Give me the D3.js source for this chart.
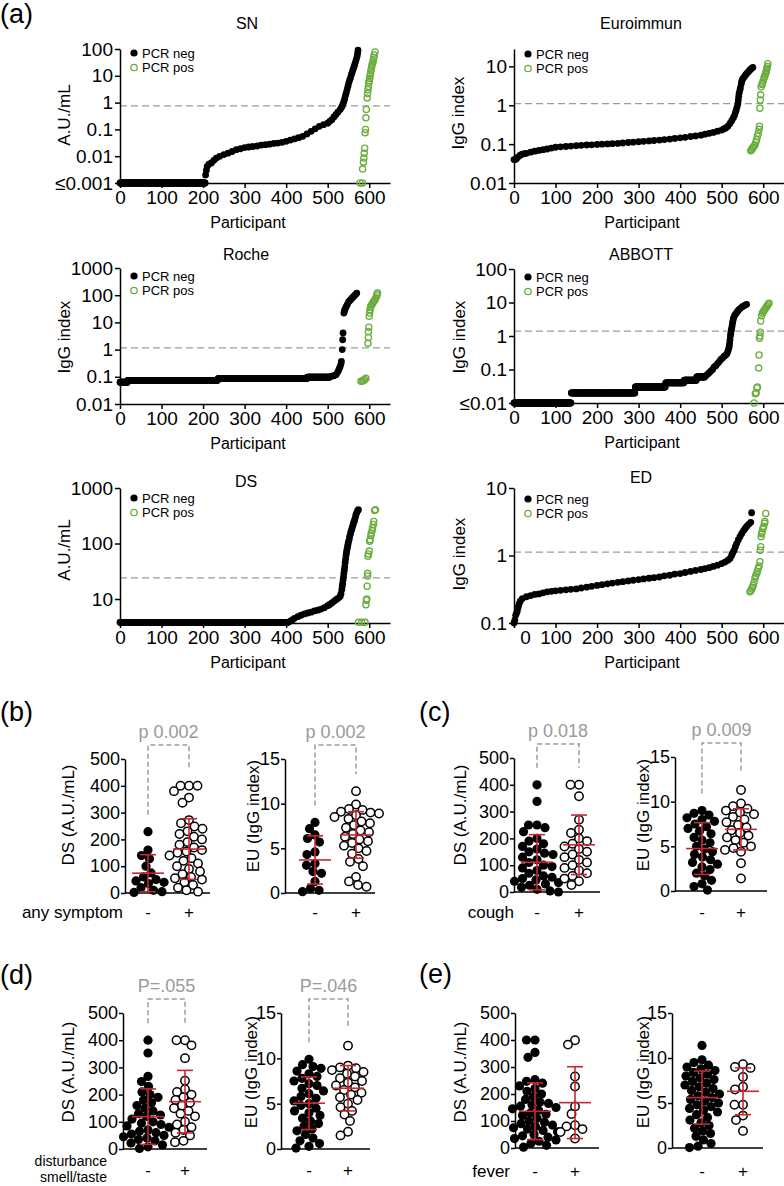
<!DOCTYPE html>
<html><head><meta charset="utf-8">
<script src="https://cdn.jsdelivr.net/npm/d3@7"></script>
<style>
body{margin:0;background:#fff;}
svg{font-family:"Liberation Sans",Arial,Helvetica,sans-serif;}
</style></head><body>
<svg id="c" width="784" height="1186"></svg>
<script>
// ---------------- DATA: panel (a) ----------------
const xTicks = [0,100,200,300,400,500,600];
const legendLabels = ["PCR neg","PCR pos"];

// SN
const snTicks = [0.001,0.01,0.1,1,10,100];
const snTickLabels = ["≤0.001","0.01","0.1","1","10","100"];
const snCutoff = 0.75;
const snNegRuns = [[0,205,0.001]];
const snNeg = [[206,0.002],[208,0.003],[210,0.0042],[214,0.005],[220,0.0056],[226,0.007],[232,0.0085],[240,0.0099],[250,0.0115],[260,0.013],[270,0.015],[280,0.0175],[290,0.019],[300,0.021],[310,0.022],[320,0.023],[330,0.024],[340,0.026],[350,0.027],[360,0.028],[370,0.03],[380,0.031],[390,0.033],[400,0.036],[410,0.04],[420,0.044],[430,0.049],[440,0.055],[450,0.068],[460,0.085],[470,0.105],[480,0.13],[490,0.15],[500,0.17],[505,0.2],[510,0.23],[515,0.29],[520,0.36],[525,0.45],[530,0.55],[533,0.65],[535,0.75],[537,0.9],[539,1.1],[541,1.4],[543,1.9],[545,2.4],[547,3.2],[549,4.2],[551,5.6],[553,7],[555,8.5],[557,11],[559,13.5],[561,17],[563,21],[565,26],[567,33],[569,42],[571,55],[572,70],[573,90]];
const snPos = [[578,0.001],[584,0.001],[584,0.0033],[586,0.006],[587,0.0085],[588,0.013],[589,0.02],[590,0.075],[591,0.1],[592,0.27],[593,0.55],[595,1.5],[596,2.2],[597,3.0],[598,4],[599,5.5],[600,6.5],[601,8],[602,10],[603,12],[604,15],[605,18],[606,22],[607,27],[609,33],[610,40],[611,48],[612,60],[614,77]];

// Euroimmun
const euTicksLog = [0.01,0.1,1,10];
const euTickLabelsLog = ["0.01","0.1","1","10"];
const euCutoff = 1.1;
const euNeg = [[0,0.04],[3,0.04],[6,0.042],[10,0.047],[15,0.052],[20,0.055],[25,0.057],[30,0.058],[40,0.062],[50,0.066],[60,0.069],[70,0.072],[80,0.075],[90,0.079],[100,0.083],[112,0.085],[125,0.087],[137,0.089],[150,0.091],[162,0.093],[175,0.095],[187,0.096],[200,0.098],[212,0.1],[225,0.101],[237,0.103],[250,0.104],[262,0.107],[275,0.11],[287,0.112],[300,0.115],[312,0.118],[325,0.121],[337,0.124],[350,0.127],[362,0.131],[375,0.135],[387,0.14],[400,0.145],[412,0.15],[425,0.157],[437,0.163],[450,0.17],[460,0.18],[470,0.19],[480,0.2],[490,0.215],[500,0.23],[505,0.245],[510,0.26],[515,0.29],[520,0.34],[524,0.4],[528,0.47],[531,0.55],[533,0.65],[535,0.76],[537,0.9],[539,1.1],[540,1.37],[541,1.7],[542,2.05],[544,2.5],[545,2.8],[547,3.5],[548,4.1],[550,4.6],[552,5.0],[555,5.5],[558,6.1],[561,6.7],[565,7.4],[568,8.1],[571,8.7],[575,9.4]];
const euPos = [[570,0.068],[572,0.072],[574,0.078],[576,0.083],[578,0.09],[580,0.095],[582,0.11],[584,0.13],[586,0.16],[588,0.19],[590,0.24],[591,0.29],[592,0.84],[593,1.37],[594,1.85],[595,3.0],[597,3.4],[598,3.7],[600,4.3],[602,5.0],[603,5.5],[605,6.2],[606,6.7],[607,7.3],[608,8],[609,9],[610,10],[611,11.7]];

// Roche
const rocheTicks = [0.01,0.1,1,10,100,1000];
const rocheTickLabels = ["0.01","0.1","1","10","100","1000"];
const rocheCutoff = 1.15;
const rocheNegRuns = [[0,18,0.063],[19,235,0.074],[236,450,0.086],[451,504,0.097]];
const rocheNeg = [[505,0.1],[510,0.105],[515,0.11],[520,0.12],[523,0.14],[526,0.17],[528,0.2],[530,0.24],[532,0.3],[533,0.37],[535,1.0],[536,2.3],[537,4.1],[539,22],[540,25],[541,29],[543,34],[545,39],[547,45],[550,56],[553,63],[556,70],[559,79],[562,88],[565,99],[568,110],[570,120]];
const rochePos = [[580,0.068],[583,0.07],[586,0.072],[589,0.08],[592,0.088],[597,1.7],[598,2.8],[598,4.5],[599,6.6],[600,16.7],[601,22],[602,29],[603,35],[604,40],[606,45],[608,50],[610,56],[612,62],[614,68],[616,80],[618,95],[619,110],[620,120]];

// ABBOTT
const abbottTicks = [0.01,0.1,1,10,100];
const abbottTickLabels = ["≤0.01","0.1","1","10","100"];
const abbottCutoff = 1.4;
const abbottNegRuns = [[0,137,0.01],[138,291,0.02],[292,364,0.03],[365,409,0.04],[410,439,0.048],[440,459,0.06]];
const abbottNeg = [[462,0.065],[466,0.072],[470,0.08],[474,0.09],[478,0.1],[482,0.12],[486,0.13],[490,0.15],[494,0.17],[498,0.2],[502,0.22],[506,0.25],[510,0.27],[513,0.3],[515,0.35],[517,0.42],[518,0.49],[519,0.6],[520,0.77],[521,1.0],[522,1.2],[523,1.5],[524,1.7],[525,2.0],[526,2.4],[527,2.8],[528,3.3],[530,3.8],[532,4.3],[535,4.8],[538,5.4],[541,6.0],[545,6.7],[550,7.5],[555,8.2],[560,8.8]];
const abbottPos = [[578,0.01],[581,0.019],[583,0.02],[585,0.028],[586,0.03],[589,0.11],[590,0.27],[591,0.86],[592,1.0],[593,1.3],[594,2.8],[596,4.0],[598,4.8],[600,5.3],[602,5.8],[604,6.3],[606,6.9],[608,7.5],[610,8.2],[612,9],[614,9.5]];

// DS
const dsTicksLog = [10,100,1000];
const dsTickLabelsLog = ["10","100","1000"];
const dsCutoff = 24;
const dsNegRuns = [[0,405,3.8]];
const dsNeg = [[410,4.0],[415,4.2],[420,4.5],[428,4.8],[436,5.1],[444,5.4],[452,5.6],[460,5.8],[468,6.1],[476,6.3],[484,6.6],[492,7.0],[500,7.6],[505,8.0],[510,8.5],[515,9.1],[520,9.7],[525,10.3],[530,11.1],[532,12.5],[534,14.8],[535,17],[536,19],[537,22],[538,25],[539,29],[540,33],[541,38],[542,45],[543,52],[544,60],[545,67],[546,75],[547,82],[548,89],[549,98],[550,108],[552,120],[553,135],[555,150],[556,165],[558,178],[559,195],[561,215],[562,235],[564,250],[565,270],[567,300],[568,330],[570,360],[572,390],[574,407]];
const dsPos = [[574,3.8],[582,3.8],[590,3.8],[592,7.9],[593,9.5],[594,10],[595,17],[596,26],[596,29],[597,59],[598,65],[600,73],[601,110],[602,117],[604,140],[605,155],[607,170],[608,190],[610,220],[611,250],[613,395],[615,405]];

// ED
const edTicks = [0.1,1,10];
const edTickLabels = ["0.1","1","10"];
const edCutoff = 1.12;
const edNeg = [[0,0.1],[2,0.11],[4,0.13],[6,0.14],[8,0.15],[10,0.17],[12,0.19],[15,0.21],[20,0.23],[30,0.245],[40,0.255],[50,0.265],[60,0.27],[70,0.28],[80,0.29],[90,0.295],[100,0.3],[112,0.305],[125,0.31],[137,0.315],[150,0.32],[162,0.33],[175,0.34],[187,0.35],[200,0.36],[212,0.37],[225,0.38],[237,0.39],[250,0.4],[262,0.41],[275,0.42],[287,0.43],[300,0.44],[312,0.45],[325,0.46],[337,0.47],[350,0.48],[362,0.5],[375,0.51],[387,0.53],[400,0.54],[412,0.56],[425,0.58],[437,0.6],[450,0.62],[460,0.64],[470,0.66],[480,0.69],[490,0.72],[500,0.76],[508,0.8],[515,0.85],[520,0.9],[524,1.0],[527,1.1],[530,1.2],[533,1.35],[536,1.5],[540,1.7],[544,1.9],[548,2.1],[552,2.3],[556,2.5],[560,2.7],[565,2.9],[570,3.1],[572,4.3]];
const edPos = [[568,0.29],[570,0.3],[572,0.32],[574,0.34],[576,0.36],[578,0.4],[580,0.46],[582,0.5],[584,0.54],[586,0.58],[588,0.64],[590,0.7],[592,0.81],[593,1.2],[594,1.35],[595,1.9],[596,2.1],[597,2.2],[599,2.5],[601,2.7],[603,3.0],[604,3.2],[606,4.2]];

// ---------------- DATA: panels (b)-(e) ----------------
const groupLabels = ["-","+"];
const dsTicksLin = [0,100,200,300,400,500];
const euTicksLin = [0,5,10,15];

const dsAnyNeg = [229,160,140,128,100,75,60,50,45,40,35,20,10,5,2];
const dsAnyPos = [400,400,400,380,356,337,272,260,248,240,230,220,210,200,190,180,170,160,155,150,140,130,120,110,100,90,80,70,60,55,50,40,30,20,10,5];
const euAnyNeg = [7.9,7.2,6.5,6.1,5.7,4.6,4.3,3.3,3.1,2.4,2.2,1.3,0.5,0.3,0.15];
const euAnyPos = [11.4,9.9,9.4,9.3,9.1,9.0,8.9,8.7,8.5,8.3,8.0,7.8,7.6,7.3,7.0,6.8,6.6,6.3,6.0,5.8,5.6,5.3,5.0,4.7,4.4,3.8,3.5,3.0,1.8,1.3,0.9,0.7];
const dsCoughNeg = [400,338,250,250,240,225,200,190,180,170,160,150,145,140,130,120,110,100,95,90,80,70,60,55,50,45,40,35,30,25,18,10,4,0];
const dsCoughPos = [400,400,357,270,232,220,200,190,180,170,160,150,140,130,120,110,100,90,80,70,60,50,40,26];
const euCoughNeg = [9.0,8.7,8.5,8.2,8.0,7.8,7.5,7.2,7.0,6.7,6.4,6.0,5.7,5.4,5.0,4.7,4.4,4.1,3.8,3.5,3.2,3.0,2.7,2.4,2.0,1.7,1.2,0.8,0.5,0.1];
const euCoughPos = [11.3,9.8,9.5,9.2,9.0,8.8,8.6,8.3,8.0,7.7,7.4,7.1,6.8,6.5,6.2,6.0,5.7,5.4,5.0,4.8,4.6,4.4,3.1,1.4];
const dsSmellNeg = [400,353,267,248,230,210,200,190,180,170,160,150,140,130,125,120,110,100,95,90,85,80,70,65,60,55,50,45,40,35,30,22,15,8,2];
const dsSmellPos = [400,400,381,334,251,220,210,200,190,180,170,160,150,140,130,120,100,90,80,70,60,50,30,25];
const euSmellNeg = [9.9,9.3,9.1,8.9,8.6,8.3,8.0,7.8,7.5,7.2,7.0,6.7,6.4,6.1,5.8,5.6,5.3,5.0,4.8,4.5,4.2,4.0,3.7,3.4,3.1,2.8,2.5,2.2,2.0,1.6,1.2,0.9,0.6,0.3,0.1];
const euSmellPos = [11.4,9.2,9.0,8.9,8.7,8.5,8.3,8.0,7.8,7.5,7.3,7.0,6.8,6.5,6.2,6.0,5.7,5.4,5.0,4.6,4.2,3.8,3.1,1.9,1.5];
const dsFeverNeg = [400,400,354,336,253,247,240,230,220,210,200,190,180,170,165,160,155,150,145,140,130,125,120,110,100,95,90,85,80,75,70,65,60,50,45,40,35,30,25,18,10,3];
const dsFeverPos = [399,383,265,228,154,126,84,80,70,59,35];
const euFeverNeg = [11.4,9.8,9.5,9.2,9.0,8.8,8.6,8.4,8.2,8.0,7.8,7.6,7.4,7.2,7.0,6.8,6.6,6.4,6.2,6.0,5.8,5.6,5.4,5.2,5.0,4.8,4.6,4.4,4.2,4.0,3.7,3.4,3.1,2.8,2.5,2.2,1.9,1.6,1.3,0.9,0.5,0.2,0.05];
const euFeverPos = [9.3,9.0,8.9,7.9,6.8,6.5,4.8,4.8,3.6,3.1,1.9];

// mean, SD
const dsAnyStats = [[74,69],[164,113]];
const euAnyStats = [[3.7,2.7],[6.5,2.6]];
const dsCoughStats = [[111,103],[176,111]];
const euCoughStats = [[4.75,2.9],[6.9,2.3]];
const dsSmellStats = [[119,102],[174,115]];
const euSmellStats = [[5.05,2.9],[6.7,2.5]];
const dsFeverStats = [[136,105],[168,133]];
const euFeverStats = [[5.6,2.95],[6.3,2.6]];

const pLabels = ["p 0.002","p 0.002","p  0.018","p 0.009","P=.055","P=.046"];

// ---------------- DRAWING ----------------
const FONT = '"Liberation Sans", Arial, Helvetica, sans-serif';
const GREEN = "#6aad3d", RED = "#c8282d", GRAY = "#9a9a9a";
const svg = d3.select("#c");

function txt(x, y, s, size, opts = {}) {
  const t = svg.append("text").attr("x", x).attr("y", y).text(s)
    .attr("font-size", size).attr("font-family", FONT)
    .attr("fill", opts.fill || "#000")
    .attr("text-anchor", opts.anchor || "middle");
  if (opts.rot) t.attr("transform", `rotate(-90,${x},${y})`);
  return t;
}

function styleAxis(a, size) {
  a.attr("font-size", size).attr("font-family", FONT);
  a.selectAll("text").attr("fill", "#000");
  a.selectAll("line").attr("stroke", "#000").attr("stroke-width", 1.5);
  a.select(".domain").attr("stroke", "#000").attr("stroke-width", 1.5);
}

function curvePanel(c) {
  const g = svg.append("g");
  const x = d3.scaleLinear().domain([0, 650]).range([c.ax, c.ax + 270]);
  const y = d3.scaleLog().domain(c.dom).range([c.yb, c.yt]);
  g.append("line").attr("x1", x(0)).attr("x2", x(650))
    .attr("y1", y(c.cut)).attr("y2", y(c.cut))
    .attr("stroke", "#9a9a9a").attr("stroke-width", 1.3).attr("stroke-dasharray", "7,4");
  const ya = g.append("g").attr("transform", `translate(${c.ax},0)`)
    .call(d3.axisLeft(y).tickValues(c.ticks).tickFormat((d, i) => c.labels[i])
      .tickSize(5).tickSizeOuter(0).tickPadding(2));
  styleAxis(ya, 19);
  const xa = g.append("g").attr("transform", `translate(0,${c.yb})`)
    .call(d3.axisBottom(x).tickValues(xTicks).tickSize(5).tickSizeOuter(0).tickPadding(3));
  styleAxis(xa, 19);
  if (c.zeroShift) xa.selectAll(".tick").filter(d => d === 0).select("text").attr("dx", c.zeroShift);

  const negPts = [];
  (c.runs || []).forEach(([a, b, v]) => { for (let r = a; r <= b; r++) negPts.push([r, v]); });
  c.neg.forEach(p => negPts.push(p));
  g.selectAll("circle.neg").data(negPts).join("circle").attr("class", "neg")
    .attr("cx", d => x(d[0])).attr("cy", d => y(d[1])).attr("r", 3.4).attr("fill", "#000");
  g.selectAll("circle.pos").data(c.pos).join("circle").attr("class", "pos")
    .attr("cx", d => x(d[0])).attr("cy", d => y(d[1])).attr("r", 3.1)
    .attr("fill", "none").attr("stroke", GREEN).attr("stroke-width", 1.3);

  // legend
  g.append("circle").attr("cx", c.ax + 14).attr("cy", c.ly).attr("r", 3.6).attr("fill", "#000");
  g.append("circle").attr("cx", c.ax + 14).attr("cy", c.ly + 14.5).attr("r", 3.2)
    .attr("fill", "none").attr("stroke", GREEN).attr("stroke-width", 1.3);
  txt(c.ax + 22, c.ly + 4.6, legendLabels[0], 13, { anchor: "start" });
  txt(c.ax + 22, c.ly + 19.1, legendLabels[1], 13, { anchor: "start" });

  txt(c.tx, c.ty, c.title, 16);
  txt(c.lx, c.lyc, c.ylabel, 17, { rot: true });
  txt(c.ax + 128, c.yb + 45, "Participant", 16);
}

curvePanel({ax:120, yt:49, yb:183, dom:[0.001,100], ticks:snTicks, labels:snTickLabels, cut:snCutoff, runs:snNegRuns, neg:snNeg, pos:snPos, ly:53, title:"SN", tx:247, ty:28.5, ylabel:"A.U./mL", lx:70, lyc:115});
curvePanel({ax:514, yt:49, yb:183, dom:[0.01,28], ticks:euTicksLog, labels:euTickLabelsLog, cut:euCutoff, neg:euNeg, pos:euPos, ly:54, title:"Euroimmun", tx:641, ty:28.5, ylabel:"IgG index", lx:464, lyc:113});
curvePanel({ax:120, yt:268, yb:404, dom:[0.01,1000], ticks:rocheTicks, labels:rocheTickLabels, cut:rocheCutoff, runs:rocheNegRuns, neg:rocheNeg, pos:rochePos, ly:276, title:"Roche", tx:246, ty:260, ylabel:"IgG index", lx:70, lyc:337});
curvePanel({ax:514, yt:269, yb:403, dom:[0.01,100], ticks:abbottTicks, labels:abbottTickLabels, cut:abbottCutoff, runs:abbottNegRuns, neg:abbottNeg, pos:abbottPos, ly:277, title:"ABBOTT", tx:641, ty:260, ylabel:"IgG index", lx:465, lyc:337});
curvePanel({ax:120, yt:488, yb:623, dom:[3.7,1000], ticks:dsTicksLog, labels:dsTickLabelsLog, cut:dsCutoff, runs:dsNegRuns, neg:dsNeg, pos:dsPos, ly:498, title:"DS", tx:246, ty:487, ylabel:"A.U./mL", lx:70, lyc:550});
curvePanel({ax:514, yt:488, yb:623, dom:[0.1,10], ticks:edTicks, labels:edTickLabels, cut:edCutoff, neg:edNeg, pos:edPos, ly:499, title:"ED", tx:641, ty:483, ylabel:"IgG index", lx:465, lyc:554, zeroShift:11});

// ---------- column scatter panels ----------
function swarm(vals, y, cx, r) {
  const placed = [];
  vals.slice().sort((a, b) => b - a).forEach(v => {
    const py = y(v);
    let px = cx;
    for (let k = 0; k < 400; k++) {
      const off = (k % 2 === 0 ? 1 : -1) * Math.ceil(k / 2) * 0.5;
      const tx = cx + off;
      if (placed.every(p => (p.x - tx) ** 2 + (p.y - py) ** 2 >= (2 * r - 0.8) ** 2)) { px = tx; break; }
    }
    placed.push({ x: px, y: py, v });
  });
  return placed;
}

function dotPanel(c) {
  const g = svg.append("g");
  const y = d3.scaleLinear().domain([0, c.max]).range([c.y0, c.yt]);
  const x = d3.scalePoint().domain(groupLabels).range(c.gx);
  const ya = g.append("g").attr("transform", `translate(${c.ax},0)`)
    .call(d3.axisLeft(y).tickValues(c.ticks).tickSize(4).tickSizeOuter(0).tickPadding(1));
  styleAxis(ya, 18);
  g.append("line").attr("x1", c.ax).attr("x2", c.xe).attr("y1", c.y0).attr("y2", c.y0)
    .attr("stroke", "#000").attr("stroke-width", 1.5);

  c.groups.forEach((vals, gi) => {
    const pts = swarm(vals, y, x(groupLabels[gi]), 4.5);
    g.selectAll(null).data(pts).join("circle")
      .attr("cx", d => d.x).attr("cy", d => d.y)
      .attr("r", gi === 0 ? 4.6 : 4.2)
      .attr("fill", gi === 0 ? "#000" : "#fff")
      .attr("stroke", "#000").attr("stroke-width", gi === 0 ? 0 : 1.5);
  });
  // mean +- SD
  c.stats.forEach(([m, sd], gi) => {
    const cx = x(groupLabels[gi]);
    const eg = g.append("g").attr("stroke", RED).attr("stroke-width", 1.6);
    eg.append("line").attr("x1", cx).attr("x2", cx).attr("y1", y(m - sd)).attr("y2", y(m + sd));
    eg.append("line").attr("x1", cx - 8).attr("x2", cx + 8).attr("y1", y(m - sd)).attr("y2", y(m - sd));
    eg.append("line").attr("x1", cx - 8).attr("x2", cx + 8).attr("y1", y(m + sd)).attr("y2", y(m + sd));
    eg.append("line").attr("x1", cx - 16).attr("x2", cx + 16).attr("y1", y(m)).attr("y2", y(m));
  });
  // significance bracket
  if (c.p) {
    const by = c.yt - 14;
    const x0 = x(groupLabels[0]), x1 = x(groupLabels[1]);
    const l0 = y(d3.max(c.groups[0])) - 17, l1 = y(d3.max(c.groups[1])) - 17;
    g.append("path").attr("d", `M${x0},${l0}V${by}H${x1}V${l1}`)
      .attr("fill", "none").attr("stroke", GRAY).attr("stroke-width", 1.5).attr("stroke-dasharray", "5,3");
    txt((x0 + x1) / 2, c.yt - 21, c.p, 18, { fill: GRAY });
  }
  // group labels
  groupLabels.forEach(l => txt(x(l), c.gy, l, 17));
  txt(c.lx, c.lyc, c.ylabel, 17, { rot: true });
}

// (b)
dotPanel({ax:125, y0:893, yt:759, max:500, ticks:dsTicksLin, gx:[148,189], xe:210, groups:[dsAnyNeg, dsAnyPos], stats:dsAnyStats, p:pLabels[0], gy:918, ylabel:"DS (A.U./mL)", lx:74, lyc:815});
dotPanel({ax:285, y0:893, yt:759, max:15, ticks:euTicksLin, gx:[315,356], xe:375, groups:[euAnyNeg, euAnyPos], stats:euAnyStats, p:pLabels[1], gy:918, ylabel:"EU (IgG index)", lx:259, lyc:816});
// (c)
dotPanel({ax:514, y0:892, yt:758, max:500, ticks:dsTicksLin, gx:[537,579], xe:600, groups:[dsCoughNeg, dsCoughPos], stats:dsCoughStats, p:pLabels[2], gy:918, ylabel:"DS (A.U./mL)", lx:466, lyc:815});
dotPanel({ax:675, y0:891, yt:757, max:15, ticks:euTicksLin, gx:[702,741], xe:767, groups:[euCoughNeg, euCoughPos], stats:euCoughStats, p:pLabels[3], gy:918, ylabel:"EU (IgG index)", lx:649, lyc:815});
// (d)
dotPanel({ax:123, y0:1149, yt:1013, max:500, ticks:dsTicksLin, gx:[148,185], xe:207, groups:[dsSmellNeg, dsSmellPos], stats:dsSmellStats, p:pLabels[4], gy:1176, ylabel:"DS (A.U./mL)", lx:74, lyc:1072});
dotPanel({ax:281, y0:1149, yt:1013, max:15, ticks:euTicksLin, gx:[309,348], xe:370, groups:[euSmellNeg, euSmellPos], stats:euSmellStats, p:pLabels[5], gy:1176, ylabel:"EU (IgG index)", lx:257, lyc:1072});
// (e)
dotPanel({ax:515, y0:1148, yt:1013, max:500, ticks:dsTicksLin, gx:[535,575], xe:599, groups:[dsFeverNeg, dsFeverPos], stats:dsFeverStats, gy:1177, ylabel:"DS (A.U./mL)", lx:466, lyc:1072});
dotPanel({ax:672, y0:1148, yt:1013, max:15, ticks:euTicksLin, gx:[702,743], xe:763, groups:[euFeverNeg, euFeverPos], stats:euFeverStats, gy:1177, ylabel:"EU (IgG index)", lx:649, lyc:1072});

// condition labels
txt(123, 918, "any symptom", 17, {anchor:"end"});
txt(514, 918, "cough", 17, {anchor:"end"});
txt(107, 1166, "disturbance", 14, {anchor:"end"});
txt(107, 1182, "smell/taste", 14, {anchor:"end"});
txt(510, 1177, "fever", 17, {anchor:"end"});

// panel letters
txt(0, 23, "(a)", 27, {anchor:"start"});
txt(0, 721, "(b)", 27, {anchor:"start"});
txt(419, 721, "(c)", 27, {anchor:"start"});
txt(0, 984, "(d)", 27, {anchor:"start"});
txt(419, 983, "(e)", 27, {anchor:"start"});
</script></body></html>
